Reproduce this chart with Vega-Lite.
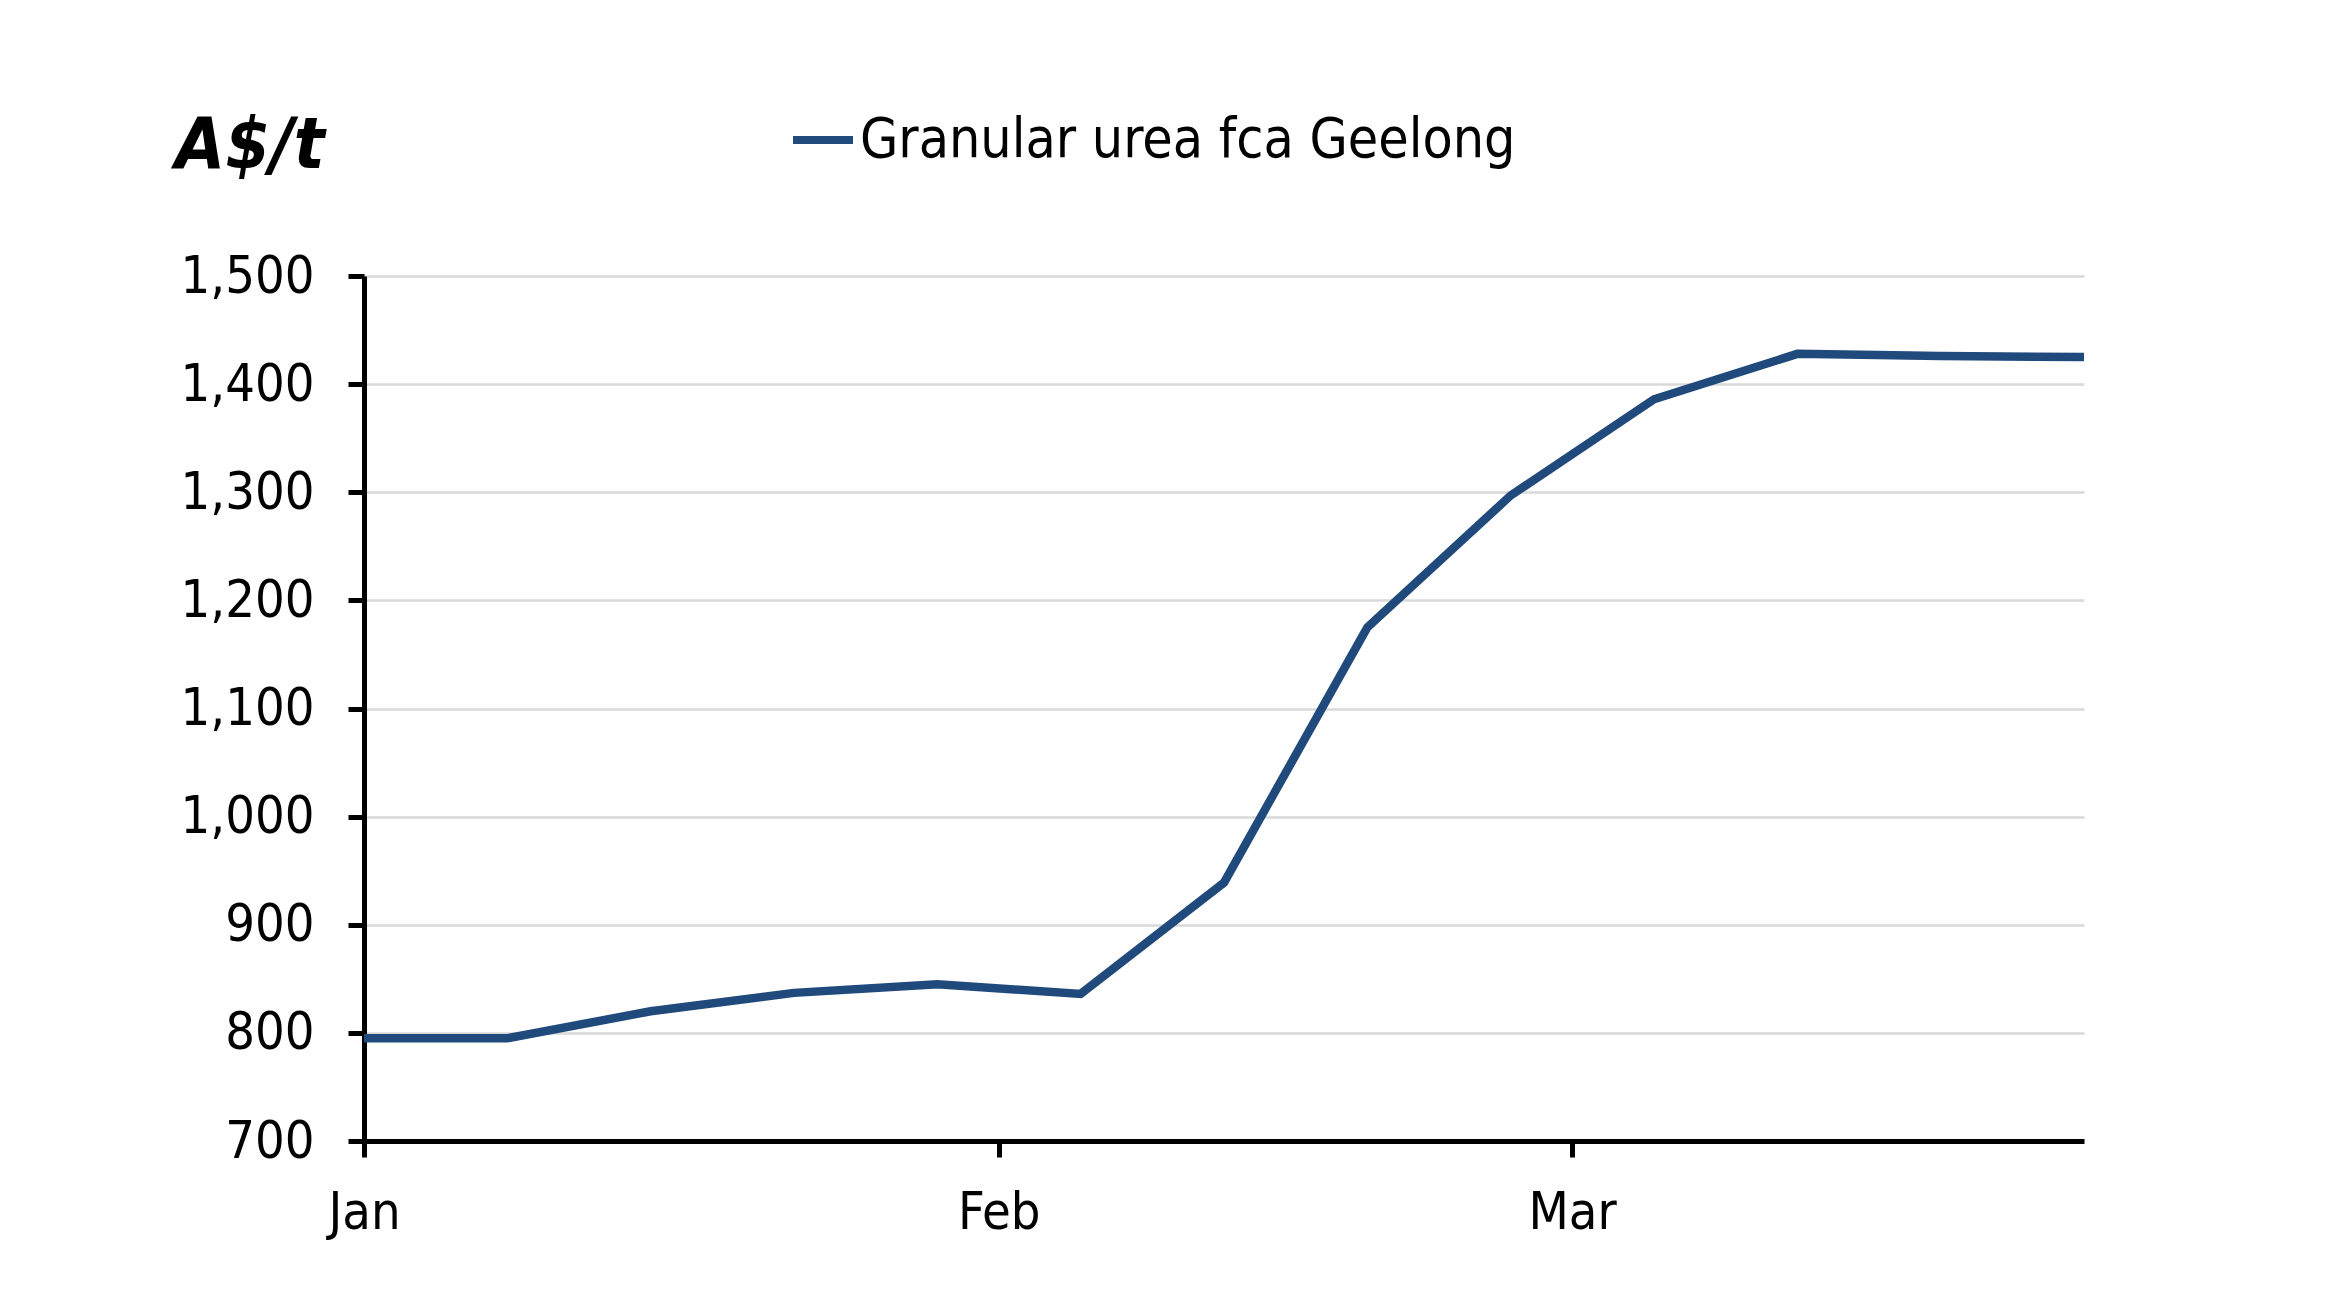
{
  "$schema": "https://vega.github.io/schema/vega-lite/v6.json",
  "width": 1720,
  "height": 865,
  "autosize": {"type": "none"},
  "padding": {"left": 364, "top": 276, "right": 255, "bottom": 175},
  "background": "white",
  "title": {
    "text": "A$/t",
    "anchor": "start",
    "frame": "group",
    "font": "DejaVu Sans Condensed",
    "fontSize": 72,
    "fontWeight": "bold",
    "fontStyle": "italic",
    "color": "black",
    "baseline": "alphabetic",
    "dx": -189,
    "offset": 0,
    "dy": 134
  },
  "data": {
    "values": [
      {"date": "2022-01-01T00:00", "price": 795, "series": "Granular urea fca Geelong"},
      {"date": "2022-01-08T00:00", "price": 795, "series": "Granular urea fca Geelong"},
      {"date": "2022-01-15T00:00", "price": 820, "series": "Granular urea fca Geelong"},
      {"date": "2022-01-22T00:00", "price": 837, "series": "Granular urea fca Geelong"},
      {"date": "2022-01-29T00:00", "price": 845, "series": "Granular urea fca Geelong"},
      {"date": "2022-02-05T00:00", "price": 836, "series": "Granular urea fca Geelong"},
      {"date": "2022-02-12T00:00", "price": 939, "series": "Granular urea fca Geelong"},
      {"date": "2022-02-19T00:00", "price": 1175, "series": "Granular urea fca Geelong"},
      {"date": "2022-02-26T00:00", "price": 1297, "series": "Granular urea fca Geelong"},
      {"date": "2022-03-05T00:00", "price": 1386, "series": "Granular urea fca Geelong"},
      {"date": "2022-03-12T00:00", "price": 1428, "series": "Granular urea fca Geelong"},
      {"date": "2022-03-19T00:00", "price": 1426, "series": "Granular urea fca Geelong"},
      {"date": "2022-03-26T00:00", "price": 1425, "series": "Granular urea fca Geelong"}
    ]
  },
  "mark": {"type": "line", "strokeWidth": 8.5, "strokeJoin": "miter", "strokeCap": "butt"},
  "encoding": {
    "x": {
      "field": "date",
      "type": "temporal",
      "scale": {
        "domain": [
          {"year": 2022, "month": 1, "date": 1},
          {"year": 2022, "month": 3, "date": 26}
        ]
      },
      "axis": {
        "title": null,
        "values": [
          {"year": 2022, "month": 1, "date": 1},
          {"year": 2022, "month": 2, "date": 1},
          {"year": 2022, "month": 3, "date": 1}
        ],
        "format": "%b",
        "grid": false,
        "domainColor": "black",
        "domainWidth": 5,
        "tickColor": "black",
        "tickWidth": 5,
        "tickSize": 16,
        "labelFont": "DejaVu Sans Condensed",
        "labelFontSize": 52,
        "labelColor": "black",
        "labelPadding": 30,
        "labelFlush": false
      }
    },
    "y": {
      "field": "price",
      "type": "quantitative",
      "scale": {"domain": [700, 1500], "nice": false, "zero": false},
      "axis": {
        "title": null,
        "values": [700, 800, 900, 1000, 1100, 1200, 1300, 1400, 1500],
        "format": ",.0f",
        "grid": true,
        "gridColor": "#d9d9d9",
        "gridWidth": 2.5,
        "domainColor": "black",
        "domainWidth": 5,
        "tickColor": "black",
        "tickWidth": 5,
        "tickSize": 16,
        "labelFont": "DejaVu Sans Condensed",
        "labelFontSize": 52,
        "labelColor": "black",
        "labelPadding": 34
      }
    },
    "color": {
      "field": "series",
      "type": "nominal",
      "scale": {"range": ["#214a7c"]},
      "legend": {
        "title": null,
        "orient": "none",
        "legendX": 425,
        "legendY": -170,
        "symbolType": "stroke",
        "symbolSize": 3600,
        "symbolStrokeWidth": 8,
        "labelFont": "DejaVu Sans Condensed",
        "labelFontSize": 55,
        "labelColor": "black",
        "labelOffset": 3,
        "labelLimit": 1000,
        "padding": 0
      }
    }
  },
  "config": {
    "view": {"stroke": null}
  }
}
